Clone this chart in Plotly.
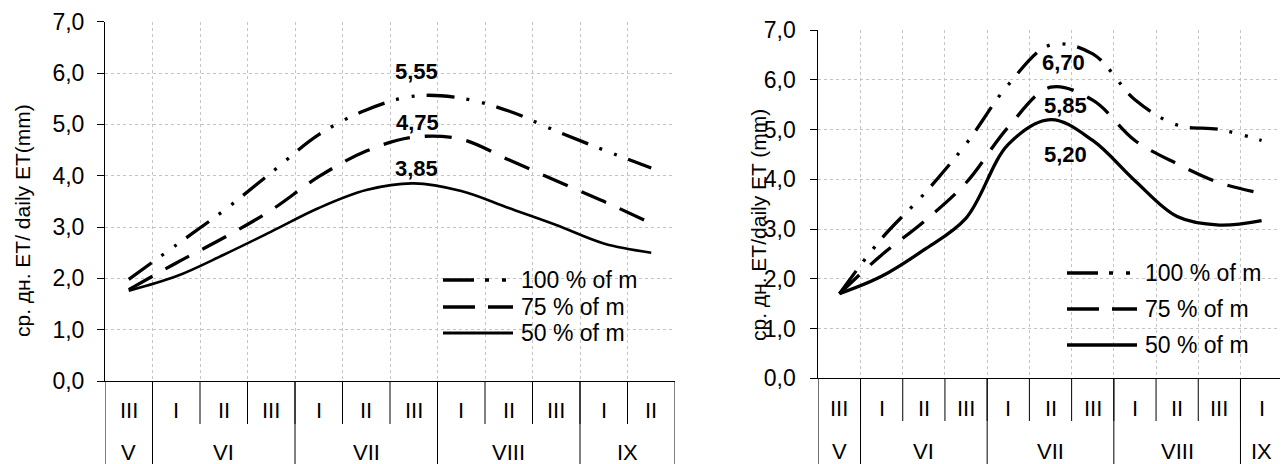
import plotly.graph_objects as go

# ---------------- data ----------------
decades_left = ["III", "I", "II", "III", "I", "II", "III", "I", "II", "III", "I", "II"]
months_left = ["V", "VI", "VII", "VIII", "IX"]
month_spans_left = [1, 3, 3, 3, 2]

decades_right = ["III", "I", "II", "III", "I", "II", "III", "I", "II", "III", "I"]
months_right = ["V", "VI", "VII", "VIII", "IX"]
month_spans_right = [1, 3, 3, 3, 1]

series_names = ["100 % of m", "75 % of m", "50 % of m"]

et100_left = [1.98, 2.65, 3.32, 4.06, 4.80, 5.28, 5.55, 5.51, 5.26, 4.87, 4.50, 4.15]
et75_left = [1.78, 2.30, 2.79, 3.33, 3.98, 4.48, 4.75, 4.71, 4.31, 3.90, 3.50, 3.07]
et50_left = [1.76, 2.04, 2.46, 2.91, 3.37, 3.72, 3.85, 3.70, 3.37, 3.04, 2.68, 2.50]

et100_right = [1.70, 2.81, 3.70, 4.71, 5.90, 6.70, 6.52, 5.60, 5.09, 5.00, 4.78]
et75_right = [1.70, 2.48, 3.15, 3.93, 5.05, 5.85, 5.59, 4.78, 4.31, 3.93, 3.72]
et50_right = [1.70, 2.05, 2.58, 3.22, 4.70, 5.20, 4.78, 3.97, 3.25, 3.08, 3.17]

y_title_left = "ср. дн. ET/ daily ET(mm)"
y_title_right = "ср. дн. ET/daily ET (mm)"

# ---------------- layout geometry ----------------
# the page body has an 8px default margin; the figure is sized to fill the rest
OFF = 8
W, H = 1288 - OFF, 464 - OFF
FONT = "Liberation Sans, Arial, sans-serif"
FS_TICK = 23
FS_CAT = 22
FS_LEG = 23
FS_LAB = 22
FS_TITLE = 21

def px(x):
    return (x - OFF) / W

def py(y):
    return 1 - (y - OFF) / H

DASH100 = "28px,12px,3px,13px,3px,12px"
DASH75 = "27px,15px"

panels = [
    dict(xa="x", ya="y", xdom=[px(105), px(675)], ydom=[py(381), py(21.7)],
         dec=decades_left, months=months_left, spans=month_spans_left,
         data=[et100_left, et75_left, et50_left], widths=[3.3, 3.3, 2.6],
         axis_y=381, dec_bottom=424, dec_text_y=410, mon_text_y=452,
         title=y_title_left, title_x=23, title_y=221,
         label_shift=[(3, 25), (4, 15), (3, 15)],
         legend_x=443, legend_rows=[280, 307, 333], standoff=8),
    dict(xa="x2", ya="y2", xdom=[px(818.3), px(1282.7)], ydom=[py(378.3), py(30)],
         dec=decades_right, months=months_right, spans=month_spans_right,
         data=[et100_right, et75_right, et50_right], widths=[3.3, 3.3, 3.3],
         axis_y=378.3, dec_bottom=421, dec_text_y=408, mon_text_y=451,
         title=y_title_right, title_x=758, title_y=225,
         label_shift=[(13, -18), (15, -18), (15, -35)],
         legend_x=1067, legend_rows=[273, 309, 345], standoff=10),
]

fig = go.Figure()
shapes = []
annotations = []
dashes = [DASH100, DASH75, "solid"]

for k, p in enumerate(panels):
    n = len(p["dec"])
    xs = list(range(n))
    for s, (vals, name) in enumerate(zip(p["data"], series_names)):
        fig.add_trace(go.Scatter(
            x=xs, y=vals, name=name, mode="lines", xaxis=p["xa"], yaxis=p["ya"],
            line=dict(color="black", width=p["widths"][s], dash=dashes[s],
                      shape="spline", smoothing=1),
            showlegend=False, hoverinfo="y"))
        # peak data label
        i_max = max(range(n), key=lambda i: vals[i])
        xs_, ys_ = p["label_shift"][s]
        annotations.append(dict(
            x=i_max, y=vals[i_max], xref=p["xa"], yref=p["ya"],
            text="<b>" + f"{vals[i_max]:.2f}".replace(".", ",") + "</b>",
            showarrow=False, xshift=xs_, yshift=ys_,
            font=dict(family=FONT, size=FS_LAB, color="black")))

    # category table: decade labels
    for i, d in enumerate(p["dec"]):
        annotations.append(dict(x=i, y=py(p["dec_text_y"]), xref=p["xa"], yref="paper",
                                text=d, showarrow=False, yanchor="middle",
                                font=dict(family=FONT, size=FS_CAT, color="black")))
    # decade separators (short)
    for i in range(1, n):
        shapes.append(dict(type="line", xref=p["xa"], yref="paper",
                           x0=i - 0.5, x1=i - 0.5, y0=py(p["axis_y"]), y1=py(p["dec_bottom"]),
                           line=dict(color="black", width=1)))
    # month labels and separators (full)
    start = 0
    bounds = [-0.5]
    for m, span in zip(p["months"], p["spans"]):
        center = start + (span - 1) / 2
        annotations.append(dict(x=center, y=py(p["mon_text_y"]), xref=p["xa"], yref="paper",
                                text=m, showarrow=False, yanchor="middle",
                                font=dict(family=FONT, size=FS_CAT, color="black")))
        start += span
        bounds.append(start - 0.5)
    for b in bounds:
        shapes.append(dict(type="line", xref=p["xa"], yref="paper",
                           x0=b, x1=b, y0=py(p["axis_y"]), y1=0,
                           line=dict(color="black", width=1)))

    # axis title
    annotations.append(dict(x=px(p["title_x"]), y=py(p["title_y"]), xref="paper", yref="paper",
                            text=p["title"], textangle=-90, showarrow=False,
                            xanchor="center", yanchor="middle",
                            font=dict(family=FONT, size=FS_TITLE, color="black")))

    # legend (manual, to reproduce long sample lines)
    lx = p["legend_x"]
    for s, name in enumerate(series_names):
        yy = py(p["legend_rows"][s])
        shapes.append(dict(type="line", xref="paper", yref="paper",
                           x0=px(lx), x1=px(lx + 70), y0=yy, y1=yy,
                           line=dict(color="black", width=3.3 if s < 2 else p["widths"][2] + 0.4,
                                     dash=["31px,11px,4px,13px,4px,20px", "32px,13px,25px,5px", "solid"][s])))
        annotations.append(dict(x=px(lx + 76), y=yy, xref="paper", yref="paper",
                                text=name, showarrow=False, xanchor="left", yanchor="middle",
                                font=dict(family=FONT, size=FS_LEG, color="black")))

    axis_common_x = dict(
        domain=p["xdom"], range=[-0.5, n - 0.5],
        tickmode="array", tickvals=[i - 0.5 for i in range(n + 1)],
        showticklabels=False, ticks="", showgrid=True,
        gridcolor="#c4c4c4", griddash="dot", gridwidth=1,
        showline=True, linecolor="black", linewidth=1, zeroline=False,
        anchor=p["ya"], fixedrange=True, automargin=False)
    axis_common_y = dict(
        domain=p["ydom"], range=[0, 7], dtick=1, tick0=0, tickformat=".1f",
        showgrid=True, gridcolor="#c4c4c4", griddash="dot", gridwidth=1,
        showline=True, linecolor="black", linewidth=1, zeroline=False,
        ticks="outside", ticklen=7, tickcolor="black", ticklabelstandoff=p["standoff"],
        tickfont=dict(family=FONT, size=FS_TICK, color="black"),
        anchor=p["xa"], fixedrange=True, automargin=False)
    if k == 0:
        fig.update_layout(xaxis=axis_common_x, yaxis=axis_common_y)
    else:
        fig.update_layout(xaxis2=axis_common_x, yaxis2=axis_common_y)

fig.update_layout(
    width=W, height=H, autosize=False,
    margin=dict(l=0, r=0, t=0, b=0, autoexpand=False),
    paper_bgcolor="white", plot_bgcolor="white",
    separators=", ",
    font=dict(family=FONT, size=FS_TICK, color="black"),
    shapes=shapes, annotations=annotations, showlegend=False)

fig.write_html("out.html", config={"displayModeBar": False})
